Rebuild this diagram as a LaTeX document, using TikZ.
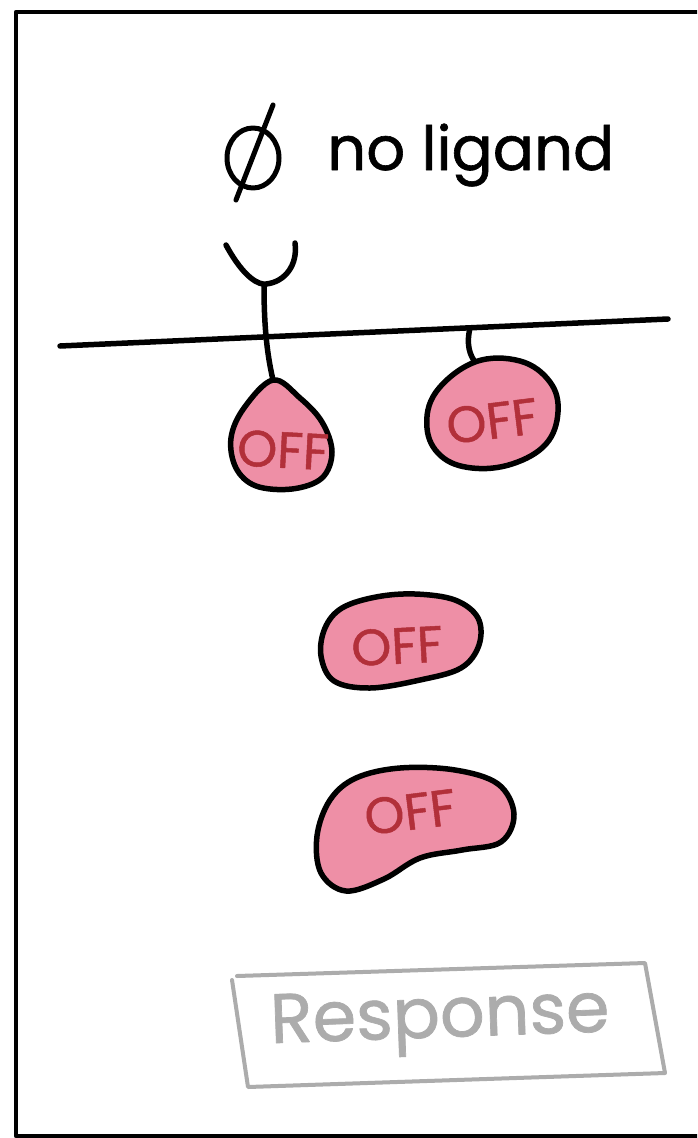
\documentclass[tikz,border=0pt]{standalone}
\usepackage{fontspec}
\newfontfamily\hand[FakeBold=1]{Poppins}
\definecolor{blobpink}{RGB}{238,143,166}
\definecolor{offred}{RGB}{178,48,58}
\definecolor{boxgray}{RGB}{172,172,172}
\begin{document}
\begin{tikzpicture}[x=1pt,y=-1pt,line cap=round,line join=round,
  ink/.style={draw=black,line width=5.5pt},
  blob/.style={ink,fill=blobpink},
  offlabel/.style={text=offred,inner sep=0pt,font=\hand\fontsize{51}{51}\selectfont},
  graytext/.style={text=boxgray,inner sep=0pt,font=\hand\fontsize{70}{70}\selectfont},
  inktext/.style={text=black,inner sep=0pt,font=\hand\fontsize{61}{61}\selectfont}]
\useasboundingbox (0,0) rectangle (697,1138);
\clip (0,0) rectangle (697,1138);
\fill[white] (0,0) rectangle (697,1138);
% panel frame
\draw[line width=4.5pt] (16,12) rectangle (720,1136);

% empty-set sign and label
\draw[ink,line width=5pt] (253,158) ellipse [x radius=26, y radius=30];
\draw[ink,line width=5pt] (236,200) -- (273,105);
\node[inktext,anchor=base west] (lig) at (327,170) {no ligand};

% membrane
\coordinate (memL) at (60,346);
\coordinate (memR) at (668,319);
\draw[ink] (memL) -- (memR);

% receptor with empty binding cup
\draw[ink] (226,245) .. controls (245,280) and (260,285) .. (266,284)
  .. controls (285,282) and (298,265) .. (295,243);
\coordinate (cupbase) at (264,285);
\coordinate (droptop) at (273,380);
\draw[ink] (cupbase) .. controls (264,320) and (266,350) .. (droptop);

% drop-shaped receptor tail
\draw[blob] plot[smooth cycle,tension=0.6] coordinates
  {(273,380) (300,398) (322,422) (332,452) (322,478) (292,489) (256,486)
   (236,468) (231,438) (244,408)};
\node[offlabel,rotate=-3] (off1) at (283,450) {OFF};

% second membrane protein
\coordinate (tether) at (470,328);
\coordinate (blobtop) at (475,362);
\draw[ink] (tether) .. controls (466,345) and (470,355) .. (blobtop);
\draw[blob] plot[smooth cycle,tension=0.65] coordinates
  {(475,362) (520,361) (550,382) (558,412) (546,444) (512,464) (472,468)
   (441,456) (427,428) (436,392)};
\node[offlabel,rotate=7] (off2) at (492,421) {OFF};

% cytosolic relay proteins
\draw[blob] plot[smooth cycle,tension=0.6] coordinates
  {(342,608) (376,597) (415,594) (455,600) (478,618) (479,645) (461,668)
   (420,680) (370,688) (334,681) (321,656) (325,628)};
\node[offlabel,rotate=3] (off3) at (397,646) {OFF};

\draw[blob] plot[smooth cycle,tension=0.6] coordinates
  {(356,778) (400,768) (455,770) (498,784) (514,814) (501,842) (462,850)
   (420,858) (384,879) (346,891) (321,873) (317,836) (330,800)};
\node[offlabel,rotate=7] (off4) at (410,812) {OFF};

% response box
\draw[draw=boxgray,line width=4pt] (237,976) -- (645,963) -- (665,1073)
  -- (248,1087) -- (232,980);
\node[graytext,rotate=2] (resp) at (440,1022) {Response};
\end{tikzpicture}
\end{document}
